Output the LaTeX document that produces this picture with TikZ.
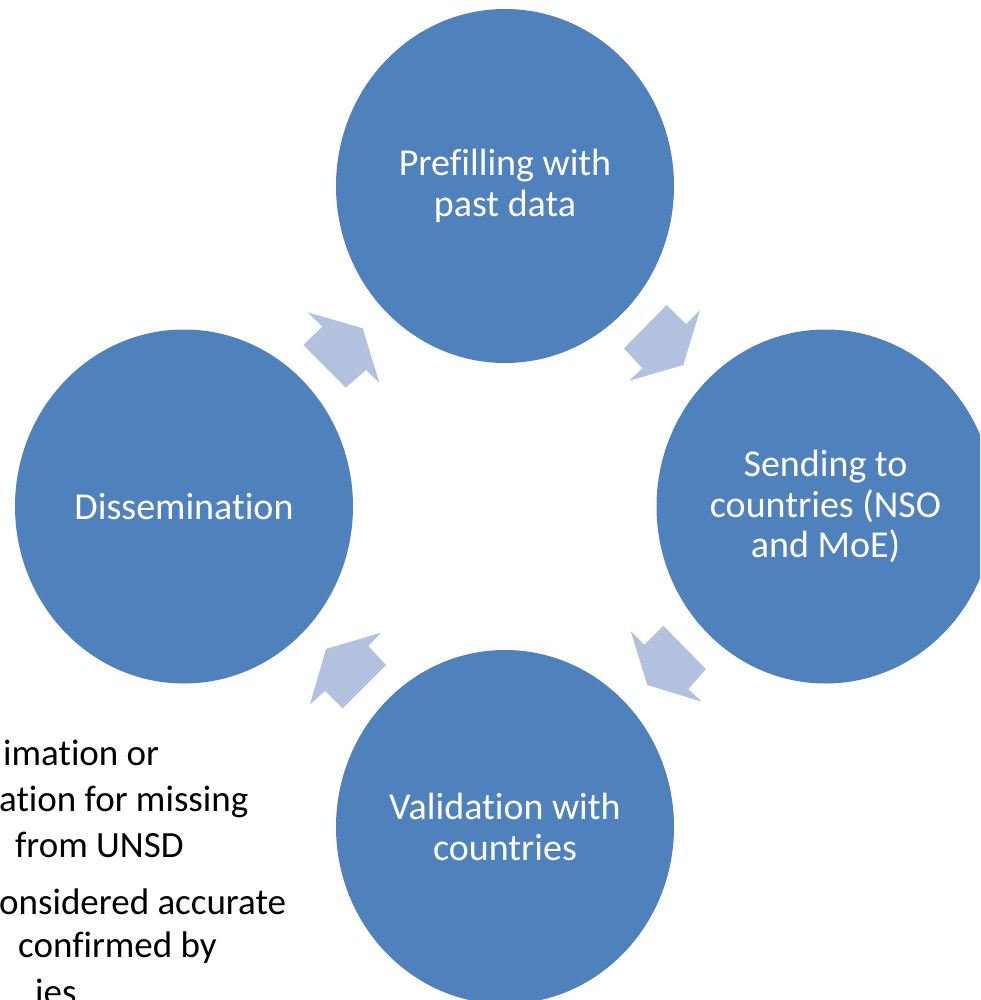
\documentclass[tikz,border=0pt]{standalone}
\usepackage{fontspec}
\setmainfont{Carlito}[RawFeature={-liga}]
\usetikzlibrary{shapes.geometric}
\definecolor{circblue}{RGB}{79,129,189}
\definecolor{arrblue}{RGB}{178,193,221}
\tikzset{
  stage/.style={ellipse, fill=circblue, text=white, minimum width=338pt, minimum height=354pt,
    inner sep=0pt, align=center, font=\fontsize{38}{40.5}\selectfont},
  blockarrow/.style={fill=arrblue},
  bodytext/.style={anchor=base west, inner sep=0pt, text=black, font=\fontsize{37}{46}\selectfont}
}
\begin{document}
\begin{tikzpicture}[x=1pt,y=-1pt]
\useasboundingbox (0,0) rectangle (980,1000);
\clip (0,0) rectangle (980,1000);
% partially visible text at bottom left
\node[bodytext] (t1) at (3,765) {imation or};
\node[bodytext] (t2) at (-1,811.5) {ation for missing};
\node[bodytext] (t3) at (15,857.5) {from UNSD};
\node[bodytext] (t4) at (-1,914) {onsidered accurate};
\node[bodytext] (t5) at (18,957.5) {confirmed by};
\node[bodytext] (t6) at (35,1004) {ies};
% stages
\node[stage] (pre) at (505,186) {Prefilling with\\past data};
\node[stage] (send) at (825.5,506.5) {Sending to\\countries (NSO\\and MoE)};
\node[stage] (val) at (505,827) {Validation with\\countries};
\node[stage] (dis) at (184,506.5) {Dissemination};
% block arrows
\fill[blockarrow] (362.7,328.3) -- (379.3,382.7) -- (366,370) -- (345.7,387.7) -- (303.3,345) -- (322.3,326.7) -- (307.7,312.3) -- cycle;
\fill[blockarrow] (683.3,365) -- (629.3,380.7) -- (642.3,368.3) -- (624,348.3) -- (666.7,305) -- (686,324) -- (700,310) -- cycle;
\fill[blockarrow] (647.3,685) -- (630.7,631) -- (644.3,644.7) -- (663.3,625.7) -- (706,669.3) -- (688.3,689) -- (701.7,701.7) -- cycle;
\fill[blockarrow] (326,649) -- (381,632.7) -- (368.3,646) -- (386,665) -- (342.7,708.3) -- (325,691) -- (310,704.3) -- cycle;
\end{tikzpicture}
\end{document}
